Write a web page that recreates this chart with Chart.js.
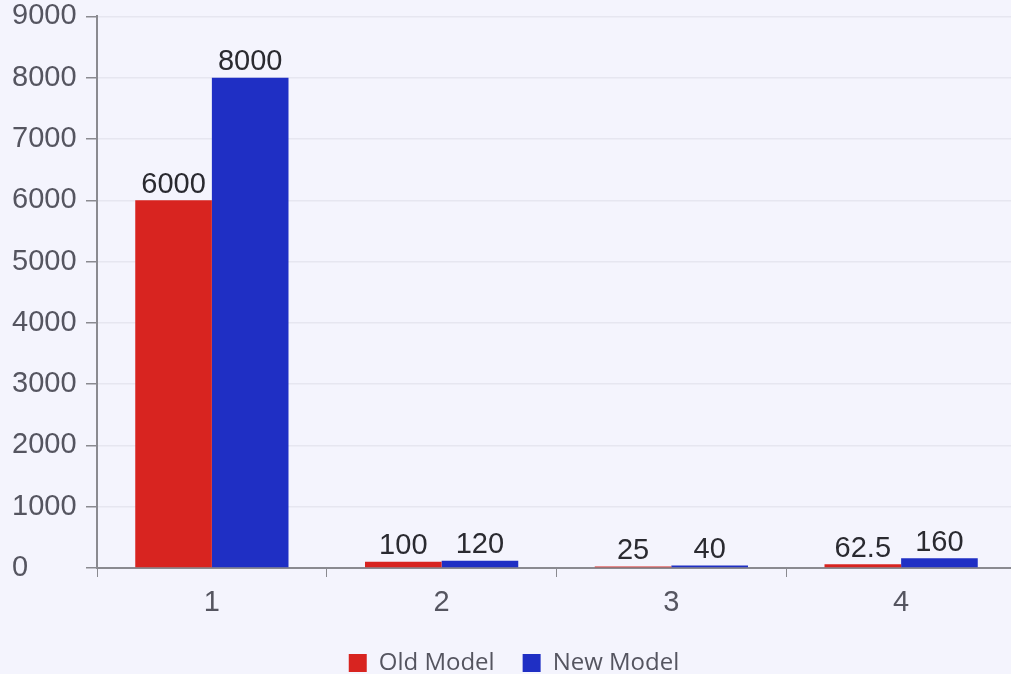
<!DOCTYPE html>
<html>
<head>
<meta charset="utf-8">
<script src="https://cdn.jsdelivr.net/npm/chart.js@4"></script>
<style>
    html, body { margin: 0; padding: 0; background: #f4f4fd; overflow: hidden; }
    #wrap { width: 1016px; height: 702px; }
</style>
</head>
<body>
<div id="wrap"><canvas id="grafico"></canvas></div>
<script>
const categorias = ['1', '2', '3', '4'];
const modeloViejo = [6000, 100, 25, 62.5];
const modeloNuevo = [8000, 120, 40, 160];
const ticksY = [0, 1000, 2000, 3000, 4000, 5000, 6000, 7000, 8000, 9000];

// Etiquetas de valor encima de cada barra
const etiquetasBarras = {
    id: 'etiquetasBarras',
    afterDatasetsDraw(chart) {
        const ctx = chart.ctx;
        ctx.save();
        ctx.font = '29px "Liberation Sans", Arial, sans-serif';
        ctx.fillStyle = '#2a2a30';
        ctx.textAlign = 'center';
        ctx.textBaseline = 'bottom';
        chart.data.datasets.forEach((ds, i) => {
            chart.getDatasetMeta(i).data.forEach((bar, j) => {
                ctx.fillText(String(ds.data[j]), bar.x, bar.y - 1);
            });
        });
        ctx.restore();
    }
};

const ctx = document.getElementById('grafico').getContext('2d');
const grafico = new Chart(ctx, {
    type: 'bar',
    data: {
        labels: categorias,
        datasets: [{
            label: 'Old Model',
            data: modeloViejo,
            backgroundColor: '#d82420',
            borderWidth: 0,
            categoryPercentage: 0.667,
            barPercentage: 1.0
        }, {
            label: 'New Model',
            data: modeloNuevo,
            backgroundColor: '#1f2fc4',
            borderWidth: 0,
            categoryPercentage: 0.667,
            barPercentage: 1.0
        }]
    },
    options: {
        responsive: true,
        maintainAspectRatio: false,
        animation: false,
        layout: { padding: { top: 10, right: 0, left: 12, bottom: 17 } },
        plugins: {
            tooltip: { enabled: false },
            legend: {
                position: 'bottom',
                labels: {
                    boxWidth: 18,
                    boxHeight: 18,
                    padding: 28,
                    color: '#555560',
                    font: { family: '"Open Sans", sans-serif', size: 24 }
                }
            }
        },
        scales: {
            x: {
                offset: true,
                grid: {
                    display: true,
                    offset: true,
                    drawOnChartArea: false,
                    drawTicks: true,
                    tickLength: 9,
                    color: '#8a8a90'
                },
                border: { display: true, color: '#8a8a90', width: 2 },
                ticks: {
                    color: '#555560',
                    padding: 9,
                    font: { family: 'Arial, sans-serif', size: 29 }
                },
                afterFit(scale) { scale.height = 55; }
            },
            y: {
                min: 0,
                max: 9000,
                afterBuildTicks(scale) {
                    scale.ticks = ticksY.map(v => ({ value: v }));
                },
                grid: {
                    color: '#e6e6f0',
                    lineWidth: 1.5,
                    drawTicks: true,
                    tickLength: 11,
                    tickColor: '#8a8a90'
                },
                border: { display: true, color: '#8a8a90', width: 2 },
                ticks: {
                    color: '#555560',
                    crossAlign: 'far',
                    padding: 4,
                    callback: v => String(v),
                    font: { family: 'Arial, sans-serif', size: 29, lineHeight: 0.86 }
                },
                afterFit(scale) { scale.width = 85; }
            }
        }
    },
    plugins: [etiquetasBarras]
});
</script>
</body>
</html>
